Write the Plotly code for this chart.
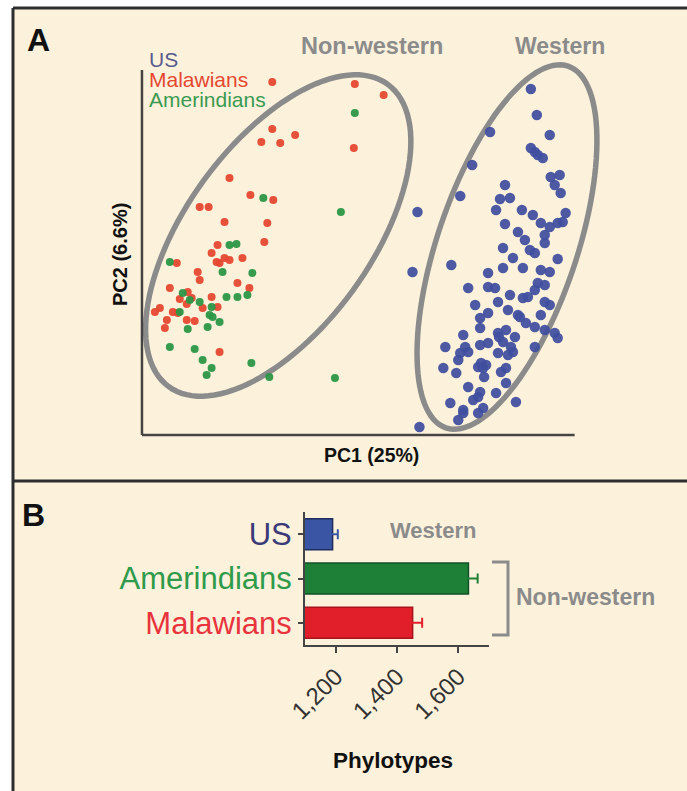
import math
import plotly.graph_objects as go

W, H = 687, 791
def fx(px): return px / W
def fy(py): return 1 - py / H

# ---------------- Panel A data (PC scores, arbitrary units) ----------------
mal_pc1 = [131, 214, 243, 213, 131, 154, 120, 139, 88, 109, 132, 58, 67, 83, 126, 123, 76, 70, 78, 88,
           101, 35, 56, 58, 96, 108, 28, 46, 38, 50, 70, 61, 76, 18, 13, 31, 25, 23, 45, 53, 78, 83, 75, 36, 45]
mal_pc2 = [353, 351, 340, 287, 306, 300, 293, 292, 257, 240, 235, 228, 228, 213, 212, 193, 190, 182, 172, 175,
           177, 172, 163, 155, 152, 147, 147, 143, 136, 137, 138, 127, 128, 127, 123, 123, 115, 107, 115, 114, 83, 177, 173, 122, 131]

ame_pc1 = [214, 122, 200, 95, 88, 81, 111, 28, 41, 58, 85, 96, 106, 68, 78, 46, 66, 28, 53, 61,
           70, 65, 110, 128, 194, 38, 70, 71, 48]
ame_pc2 = [322, 237, 223, 191, 190, 163, 162, 173, 142, 133, 138, 138, 140, 120, 113, 106, 108, 88, 86, 75,
           67, 60, 72, 58, 57, 123, 128, 118, 135]

us_pc1 = [391, 397, 410, 350, 332, 320, 277, 391, 395, 398, 403, 411, 420, 415, 421, 365, 360, 370, 356, 382,
          393, 426, 365, 401, 410, 418, 423, 378, 405, 385, 405, 363, 390, 395, 418, 272, 311, 373, 363, 383,
          401, 410, 348, 328, 348, 355, 370, 383, 388, 398, 405, 395, 405, 410, 335, 358, 368, 378, 348, 340,
          401, 386, 395, 405, 415, 418, 340, 358, 366, 375, 323, 363, 371, 340, 325, 305, 395, 320, 328, 358,
          368, 318, 341, 346, 343, 338, 366, 303, 316, 366, 328, 340, 338, 356, 333, 376, 310, 343, 323, 338,
          318, 323, 279, 380, 359, 373, 348, 344, 361]
us_pc2 = [346, 320, 300, 303, 270, 239, 223, 287, 283, 280, 277, 258, 260, 250, 242, 250, 236, 237, 225, 225,
          220, 222, 211, 212, 208, 212, 213, 203, 200, 195, 192, 187, 185, 182, 176, 163, 170, 177, 167, 167,
          165, 163, 162, 147, 148, 147, 140, 137, 138, 152, 150, 145, 133, 130, 130, 133, 125, 120, 122, 117,
          120, 112, 108, 105, 102, 97, 107, 102, 105, 98, 100, 93, 88, 90, 88, 88, 88, 82, 83, 82,
          80, 75, 72, 70, 67, 68, 67, 67, 62, 52, 48, 43, 38, 42, 35, 33, 32, 27, 25, 22,
          15, 22, 8, 118, 98, 83, 92, 58, 63]

# group ellipses: centre (PC1, PC2), semi-axes, rotation (deg)
ellipse_nonwestern = dict(cx=137, cy=199.5, a=187, b=93, ang=53.9)
ellipse_western = dict(cx=367, cy=188, a=191, b=70, ang=71.2)

# ---------------- Panel B data ----------------
groups_B = ["US", "Amerindians", "Malawians"]
phylotypes = [1190, 1633, 1451]
phylo_err = [17, 30, 31]
bar_colors = ["#3a55a3", "#1e8036", "#e11f2a"]
bar_edges = ["#1f2c5c", "#12502a", "#a8141c"]
label_colors = ["#3b3a78", "#2f9a4a", "#e8343c"]
x_ticks_B = [1200, 1400, 1600]

red, green, blue = "#e6472f", "#2c9646", "#3f4f9e"
grey = "#8b8b8b"
cream = "#fcf2dc"
FONT = "Liberation Sans, Arial, Helvetica, sans-serif"

fig = go.Figure()

# Panel A scatter
fig.add_trace(go.Scatter(x=us_pc1, y=us_pc2, mode="markers", xaxis="x", yaxis="y",
                         marker=dict(size=10.5, color=blue, opacity=0.93), name="US"))
fig.add_trace(go.Scatter(x=mal_pc1, y=mal_pc2, mode="markers", xaxis="x", yaxis="y",
                         marker=dict(size=8, color=red, opacity=0.95), name="Malawians"))
fig.add_trace(go.Scatter(x=ame_pc1, y=ame_pc2, mode="markers", xaxis="x", yaxis="y",
                         marker=dict(size=8, color=green, opacity=0.95), name="Amerindians"))

# Panel B bars
for g, v, e, c, ec in zip(groups_B, phylotypes, phylo_err, bar_colors, bar_edges):
    fig.add_trace(go.Bar(x=[v], y=[g], orientation="h", xaxis="x2", yaxis="y2", width=0.7,
                         marker=dict(color=c, line=dict(color=ec, width=1.5)),
                         error_x=dict(type="data", array=[e], color=c, thickness=2, width=5)))

def ellipse_path(p, n=120):
    phi = math.radians(p["ang"])
    pts = []
    for i in range(n):
        t = 2 * math.pi * i / n
        x = p["cx"] + p["a"] * math.cos(t) * math.cos(phi) - p["b"] * math.sin(t) * math.sin(phi)
        y = p["cy"] + p["a"] * math.cos(t) * math.sin(phi) + p["b"] * math.sin(t) * math.cos(phi)
        pts.append(f"{x:.2f},{y:.2f}")
    return "M" + " L".join(pts) + " Z"

shapes = [
    # panel frame (kept inside the paper)
    dict(type="rect", xref="paper", yref="paper", x0=fx(13), x1=1.0, y0=0.0, y1=fy(8),
         fillcolor=cream, line=dict(width=0), layer="below"),
    dict(type="line", xref="paper", yref="paper", x0=fx(13), x1=fx(13), y0=0, y1=fy(8),
         line=dict(color="#2e2e2e", width=3)),
    dict(type="line", xref="paper", yref="paper", x0=fx(13), x1=1, y0=fy(8), y1=fy(8),
         line=dict(color="#2e2e2e", width=3)),
    dict(type="line", xref="paper", yref="paper", x0=fx(13), x1=1, y0=fy(481), y1=fy(481),
         line=dict(color="#2e2e2e", width=3)),
    # panel A axes
    dict(type="line", xref="x", yref="y", x0=0, x1=435, y0=0, y1=0, line=dict(color="#444", width=2.5)),
    dict(type="line", xref="x", yref="y", x0=0, x1=0, y0=0, y1=365, line=dict(color="#444", width=2.5)),
    # ellipses
    dict(type="path", xref="x", yref="y", path=ellipse_path(ellipse_nonwestern),
         line=dict(color=grey, width=5.5), layer="below"),
    dict(type="path", xref="x", yref="y", path=ellipse_path(ellipse_western),
         line=dict(color=grey, width=5.5), layer="below"),
    # bracket panel B
    dict(type="path", xref="paper", yref="paper",
         path=f"M{fx(492)},{fy(562)} L{fx(508)},{fy(562)} L{fx(508)},{fy(635)} L{fx(492)},{fy(635)}",
         line=dict(color=grey, width=3)),
]

def ann(text, x, y, size, color="#000", bold=False, xanchor="center", angle=0):
    t = f"<b>{text}</b>" if bold else text
    return dict(text=t, x=fx(x), y=fy(y), xref="paper", yref="paper", showarrow=False,
                xanchor=xanchor, yanchor="middle", textangle=angle,
                font=dict(size=size, color=color, family=FONT))

annotations = [
    ann("A", 38, 40, 32, "#111", True),
    ann("B", 33, 515, 32, "#111", True),
    ann("US", 147, 59, 21, "#585a8e", xanchor="left"),
    ann("Malawians", 147, 80, 21, red, xanchor="left"),
    ann("Amerindians", 147, 100, 21, "#3a9a50", xanchor="left"),
    ann("Non-western", 372, 46, 23.5, grey, True),
    ann("Western", 560, 46, 23, grey, True),
    ann("PC2 (6.6%)", 120, 255, 20, "#111", True, angle=-90),
    ann("PC1 (25%)", 371, 455, 19.5, "#111", True),
    ann("Western", 433, 530, 22, grey, True),
    ann("Non-western", 585, 597, 23, grey, True),
    ann("Phylotypes", 393, 760, 22.5, "#111", True),
]

tick_text_B = [f'<span style="color:{c}">{g}</span>' for g, c in zip(groups_B, label_colors)]

fig.update_layout(
    width=W, height=H, margin=dict(l=0, r=0, t=0, b=0, pad=0, autoexpand=False), autosize=False,
    paper_bgcolor="white", plot_bgcolor="rgba(0,0,0,0)",
    showlegend=False, barmode="overlay",
    font=dict(family=FONT),
    shapes=shapes, annotations=annotations,
    xaxis=dict(domain=[fx(139), 1], range=[-3, 548], visible=False, fixedrange=True),
    yaxis=dict(domain=[fy(438), fy(20)], range=[-3, 415], visible=False, fixedrange=True),
    xaxis2=dict(domain=[fx(305), fx(489)], range=[1100, 1700], anchor="y2",
                tickvals=x_ticks_B, tickformat=",", tickangle=-45,
                ticks="outside", ticklen=6, tickwidth=2, tickcolor="#444",
                showline=True, linecolor="#444", linewidth=2, showgrid=False, zeroline=False,
                tickfont=dict(size=24, color="#333", family=FONT)),
    yaxis2=dict(domain=[fy(645), fy(512)], anchor="x2", type="category",
                categoryorder="array", categoryarray=groups_B[::-1], range=[-0.5, 2.5],
                tickvals=groups_B, ticktext=tick_text_B,
                ticks="outside", ticklen=5, tickwidth=2, tickcolor="#444",
                showline=True, linecolor="#444", linewidth=2, showgrid=False,
                tickfont=dict(size=31, family=FONT)),
)

fig.write_html("out.html", config={"responsive": False})
